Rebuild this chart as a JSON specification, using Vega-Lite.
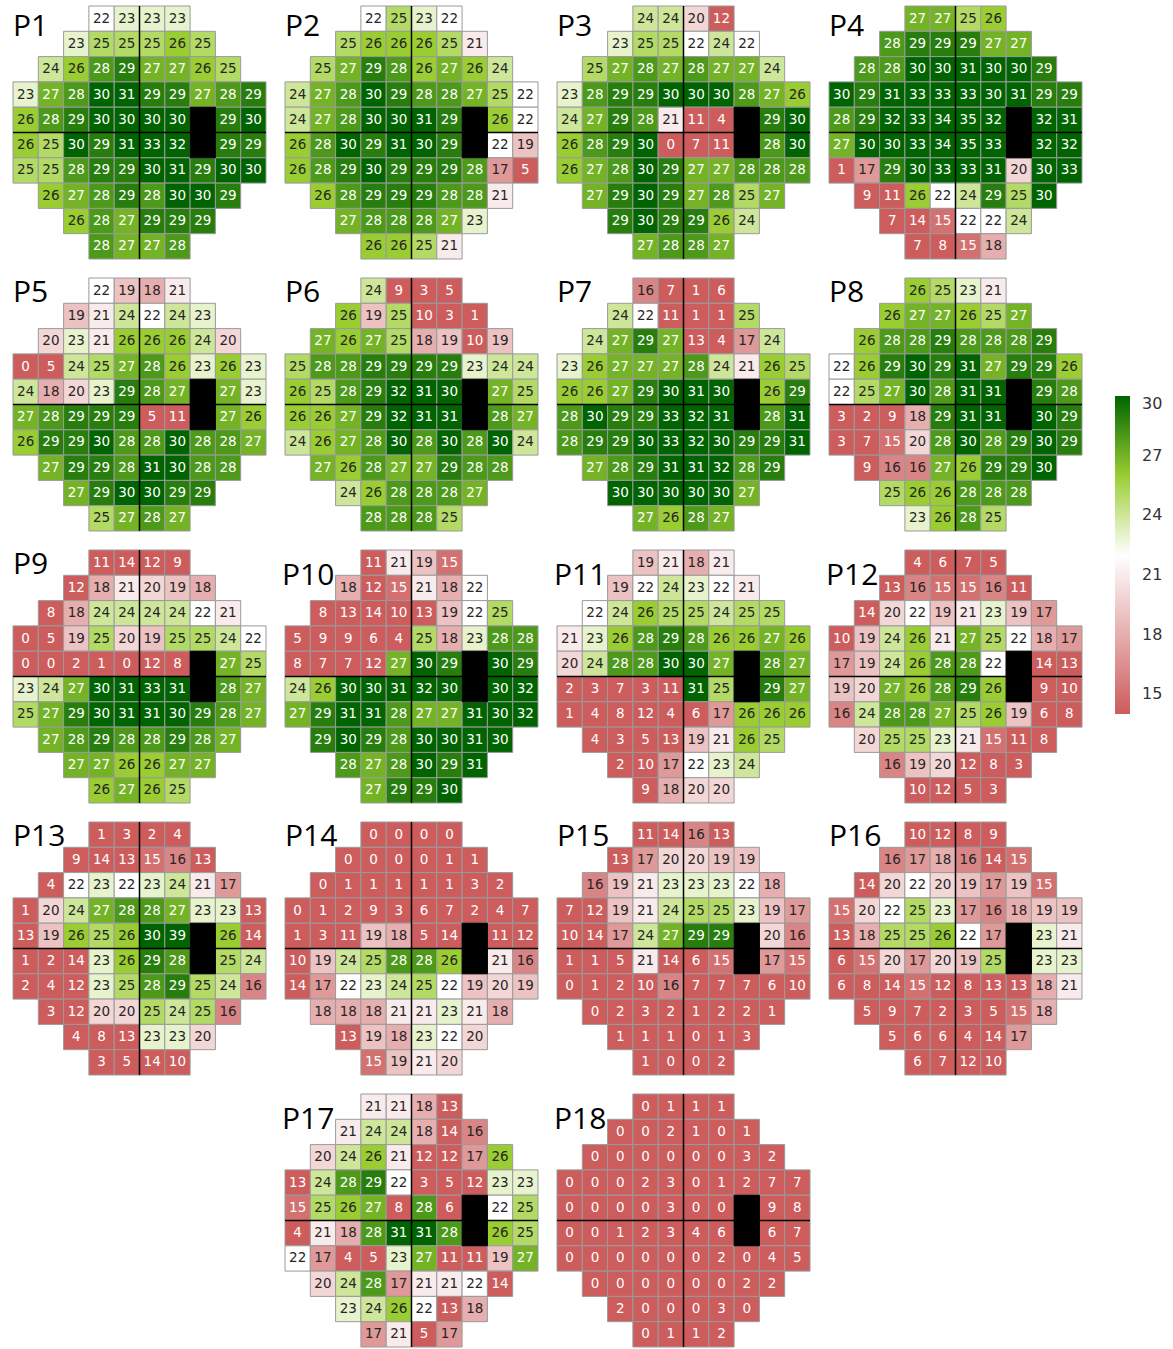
{
"$schema": "https://vega.github.io/schema/vega-lite/v6.json",
"background": "white",
"padding": {"left": 12, "top": 5, "right": 0, "bottom": 0},
"config": {"view": {"stroke": null}},
"datasets": {
"panels": [
{"p":"P1","pr":1,"pc":1},{"p":"P2","pr":1,"pc":2},{"p":"P3","pr":1,"pc":3},{"p":"P4","pr":1,"pc":4},
{"p":"P5","pr":2,"pc":1},{"p":"P6","pr":2,"pc":2},{"p":"P7","pr":2,"pc":3},{"p":"P8","pr":2,"pc":4},
{"p":"P9","pr":3,"pc":1},{"p":"P10","pr":3,"pc":2},{"p":"P11","pr":3,"pc":3},{"p":"P12","pr":3,"pc":4},
{"p":"P13","pr":4,"pc":1},{"p":"P14","pr":4,"pc":2},{"p":"P15","pr":4,"pc":3},{"p":"P16","pr":4,"pc":4},
{"p":"P17","pr":5,"pc":2},{"p":"P18","pr":5,"pc":3}
],
"cells": [
{"p":"P1","r":1,"c":4,"v":22},{"p":"P1","r":1,"c":5,"v":23},{"p":"P1","r":1,"c":6,"v":23},{"p":"P1","r":1,"c":7,"v":23},
{"p":"P1","r":2,"c":3,"v":23},{"p":"P1","r":2,"c":4,"v":25},{"p":"P1","r":2,"c":5,"v":25},{"p":"P1","r":2,"c":6,"v":25},{"p":"P1","r":2,"c":7,"v":26},{"p":"P1","r":2,"c":8,"v":25},
{"p":"P1","r":3,"c":2,"v":24},{"p":"P1","r":3,"c":3,"v":26},{"p":"P1","r":3,"c":4,"v":28},{"p":"P1","r":3,"c":5,"v":29},{"p":"P1","r":3,"c":6,"v":27},{"p":"P1","r":3,"c":7,"v":27},{"p":"P1","r":3,"c":8,"v":26},{"p":"P1","r":3,"c":9,"v":25},
{"p":"P1","r":4,"c":1,"v":23},{"p":"P1","r":4,"c":2,"v":27},{"p":"P1","r":4,"c":3,"v":28},{"p":"P1","r":4,"c":4,"v":30},{"p":"P1","r":4,"c":5,"v":31},{"p":"P1","r":4,"c":6,"v":29},{"p":"P1","r":4,"c":7,"v":29},{"p":"P1","r":4,"c":8,"v":27},{"p":"P1","r":4,"c":9,"v":28},{"p":"P1","r":4,"c":10,"v":29},
{"p":"P1","r":5,"c":1,"v":26},{"p":"P1","r":5,"c":2,"v":28},{"p":"P1","r":5,"c":3,"v":29},{"p":"P1","r":5,"c":4,"v":30},{"p":"P1","r":5,"c":5,"v":30},{"p":"P1","r":5,"c":6,"v":30},{"p":"P1","r":5,"c":7,"v":30},{"p":"P1","r":5,"c":8,"v":null},{"p":"P1","r":5,"c":9,"v":29},{"p":"P1","r":5,"c":10,"v":30},
{"p":"P1","r":6,"c":1,"v":26},{"p":"P1","r":6,"c":2,"v":25},{"p":"P1","r":6,"c":3,"v":30},{"p":"P1","r":6,"c":4,"v":29},{"p":"P1","r":6,"c":5,"v":31},{"p":"P1","r":6,"c":6,"v":33},{"p":"P1","r":6,"c":7,"v":32},{"p":"P1","r":6,"c":8,"v":null},{"p":"P1","r":6,"c":9,"v":29},{"p":"P1","r":6,"c":10,"v":29},
{"p":"P1","r":7,"c":1,"v":25},{"p":"P1","r":7,"c":2,"v":25},{"p":"P1","r":7,"c":3,"v":28},{"p":"P1","r":7,"c":4,"v":29},{"p":"P1","r":7,"c":5,"v":29},{"p":"P1","r":7,"c":6,"v":30},{"p":"P1","r":7,"c":7,"v":31},{"p":"P1","r":7,"c":8,"v":29},{"p":"P1","r":7,"c":9,"v":30},{"p":"P1","r":7,"c":10,"v":30},
{"p":"P1","r":8,"c":2,"v":26},{"p":"P1","r":8,"c":3,"v":27},{"p":"P1","r":8,"c":4,"v":28},{"p":"P1","r":8,"c":5,"v":29},{"p":"P1","r":8,"c":6,"v":28},{"p":"P1","r":8,"c":7,"v":30},{"p":"P1","r":8,"c":8,"v":30},{"p":"P1","r":8,"c":9,"v":29},
{"p":"P1","r":9,"c":3,"v":26},{"p":"P1","r":9,"c":4,"v":28},{"p":"P1","r":9,"c":5,"v":27},{"p":"P1","r":9,"c":6,"v":29},{"p":"P1","r":9,"c":7,"v":29},{"p":"P1","r":9,"c":8,"v":29},
{"p":"P1","r":10,"c":4,"v":28},{"p":"P1","r":10,"c":5,"v":27},{"p":"P1","r":10,"c":6,"v":27},{"p":"P1","r":10,"c":7,"v":28},

{"p":"P2","r":1,"c":4,"v":22},{"p":"P2","r":1,"c":5,"v":25},{"p":"P2","r":1,"c":6,"v":23},{"p":"P2","r":1,"c":7,"v":22},
{"p":"P2","r":2,"c":3,"v":25},{"p":"P2","r":2,"c":4,"v":26},{"p":"P2","r":2,"c":5,"v":26},{"p":"P2","r":2,"c":6,"v":26},{"p":"P2","r":2,"c":7,"v":25},{"p":"P2","r":2,"c":8,"v":21},
{"p":"P2","r":3,"c":2,"v":25},{"p":"P2","r":3,"c":3,"v":27},{"p":"P2","r":3,"c":4,"v":29},{"p":"P2","r":3,"c":5,"v":28},{"p":"P2","r":3,"c":6,"v":26},{"p":"P2","r":3,"c":7,"v":27},{"p":"P2","r":3,"c":8,"v":26},{"p":"P2","r":3,"c":9,"v":24},
{"p":"P2","r":4,"c":1,"v":24},{"p":"P2","r":4,"c":2,"v":27},{"p":"P2","r":4,"c":3,"v":28},{"p":"P2","r":4,"c":4,"v":30},{"p":"P2","r":4,"c":5,"v":29},{"p":"P2","r":4,"c":6,"v":28},{"p":"P2","r":4,"c":7,"v":28},{"p":"P2","r":4,"c":8,"v":27},{"p":"P2","r":4,"c":9,"v":25},{"p":"P2","r":4,"c":10,"v":22},
{"p":"P2","r":5,"c":1,"v":24},{"p":"P2","r":5,"c":2,"v":27},{"p":"P2","r":5,"c":3,"v":28},{"p":"P2","r":5,"c":4,"v":30},{"p":"P2","r":5,"c":5,"v":30},{"p":"P2","r":5,"c":6,"v":31},{"p":"P2","r":5,"c":7,"v":29},{"p":"P2","r":5,"c":8,"v":null},{"p":"P2","r":5,"c":9,"v":26},{"p":"P2","r":5,"c":10,"v":22},
{"p":"P2","r":6,"c":1,"v":26},{"p":"P2","r":6,"c":2,"v":28},{"p":"P2","r":6,"c":3,"v":30},{"p":"P2","r":6,"c":4,"v":29},{"p":"P2","r":6,"c":5,"v":31},{"p":"P2","r":6,"c":6,"v":30},{"p":"P2","r":6,"c":7,"v":29},{"p":"P2","r":6,"c":8,"v":null},{"p":"P2","r":6,"c":9,"v":22},{"p":"P2","r":6,"c":10,"v":19},
{"p":"P2","r":7,"c":1,"v":26},{"p":"P2","r":7,"c":2,"v":28},{"p":"P2","r":7,"c":3,"v":29},{"p":"P2","r":7,"c":4,"v":30},{"p":"P2","r":7,"c":5,"v":29},{"p":"P2","r":7,"c":6,"v":29},{"p":"P2","r":7,"c":7,"v":29},{"p":"P2","r":7,"c":8,"v":28},{"p":"P2","r":7,"c":9,"v":17},{"p":"P2","r":7,"c":10,"v":5},
{"p":"P2","r":8,"c":2,"v":26},{"p":"P2","r":8,"c":3,"v":28},{"p":"P2","r":8,"c":4,"v":29},{"p":"P2","r":8,"c":5,"v":29},{"p":"P2","r":8,"c":6,"v":29},{"p":"P2","r":8,"c":7,"v":28},{"p":"P2","r":8,"c":8,"v":28},{"p":"P2","r":8,"c":9,"v":21},
{"p":"P2","r":9,"c":3,"v":27},{"p":"P2","r":9,"c":4,"v":28},{"p":"P2","r":9,"c":5,"v":28},{"p":"P2","r":9,"c":6,"v":28},{"p":"P2","r":9,"c":7,"v":27},{"p":"P2","r":9,"c":8,"v":23},
{"p":"P2","r":10,"c":4,"v":26},{"p":"P2","r":10,"c":5,"v":26},{"p":"P2","r":10,"c":6,"v":25},{"p":"P2","r":10,"c":7,"v":21},

{"p":"P3","r":1,"c":4,"v":24},{"p":"P3","r":1,"c":5,"v":24},{"p":"P3","r":1,"c":6,"v":20},{"p":"P3","r":1,"c":7,"v":12},
{"p":"P3","r":2,"c":3,"v":23},{"p":"P3","r":2,"c":4,"v":25},{"p":"P3","r":2,"c":5,"v":25},{"p":"P3","r":2,"c":6,"v":22},{"p":"P3","r":2,"c":7,"v":24},{"p":"P3","r":2,"c":8,"v":22},
{"p":"P3","r":3,"c":2,"v":25},{"p":"P3","r":3,"c":3,"v":27},{"p":"P3","r":3,"c":4,"v":28},{"p":"P3","r":3,"c":5,"v":27},{"p":"P3","r":3,"c":6,"v":28},{"p":"P3","r":3,"c":7,"v":27},{"p":"P3","r":3,"c":8,"v":27},{"p":"P3","r":3,"c":9,"v":24},
{"p":"P3","r":4,"c":1,"v":23},{"p":"P3","r":4,"c":2,"v":28},{"p":"P3","r":4,"c":3,"v":29},{"p":"P3","r":4,"c":4,"v":29},{"p":"P3","r":4,"c":5,"v":30},{"p":"P3","r":4,"c":6,"v":30},{"p":"P3","r":4,"c":7,"v":30},{"p":"P3","r":4,"c":8,"v":28},{"p":"P3","r":4,"c":9,"v":27},{"p":"P3","r":4,"c":10,"v":26},
{"p":"P3","r":5,"c":1,"v":24},{"p":"P3","r":5,"c":2,"v":27},{"p":"P3","r":5,"c":3,"v":29},{"p":"P3","r":5,"c":4,"v":28},{"p":"P3","r":5,"c":5,"v":21},{"p":"P3","r":5,"c":6,"v":11},{"p":"P3","r":5,"c":7,"v":4},{"p":"P3","r":5,"c":8,"v":null},{"p":"P3","r":5,"c":9,"v":29},{"p":"P3","r":5,"c":10,"v":30},
{"p":"P3","r":6,"c":1,"v":26},{"p":"P3","r":6,"c":2,"v":28},{"p":"P3","r":6,"c":3,"v":29},{"p":"P3","r":6,"c":4,"v":30},{"p":"P3","r":6,"c":5,"v":0},{"p":"P3","r":6,"c":6,"v":7},{"p":"P3","r":6,"c":7,"v":11},{"p":"P3","r":6,"c":8,"v":null},{"p":"P3","r":6,"c":9,"v":28},{"p":"P3","r":6,"c":10,"v":30},
{"p":"P3","r":7,"c":1,"v":26},{"p":"P3","r":7,"c":2,"v":27},{"p":"P3","r":7,"c":3,"v":28},{"p":"P3","r":7,"c":4,"v":30},{"p":"P3","r":7,"c":5,"v":29},{"p":"P3","r":7,"c":6,"v":27},{"p":"P3","r":7,"c":7,"v":27},{"p":"P3","r":7,"c":8,"v":28},{"p":"P3","r":7,"c":9,"v":28},{"p":"P3","r":7,"c":10,"v":28},
{"p":"P3","r":8,"c":2,"v":27},{"p":"P3","r":8,"c":3,"v":29},{"p":"P3","r":8,"c":4,"v":30},{"p":"P3","r":8,"c":5,"v":29},{"p":"P3","r":8,"c":6,"v":27},{"p":"P3","r":8,"c":7,"v":28},{"p":"P3","r":8,"c":8,"v":25},{"p":"P3","r":8,"c":9,"v":27},
{"p":"P3","r":9,"c":3,"v":29},{"p":"P3","r":9,"c":4,"v":30},{"p":"P3","r":9,"c":5,"v":29},{"p":"P3","r":9,"c":6,"v":29},{"p":"P3","r":9,"c":7,"v":26},{"p":"P3","r":9,"c":8,"v":24},
{"p":"P3","r":10,"c":4,"v":27},{"p":"P3","r":10,"c":5,"v":28},{"p":"P3","r":10,"c":6,"v":28},{"p":"P3","r":10,"c":7,"v":27},

{"p":"P4","r":1,"c":4,"v":27},{"p":"P4","r":1,"c":5,"v":27},{"p":"P4","r":1,"c":6,"v":25},{"p":"P4","r":1,"c":7,"v":26},
{"p":"P4","r":2,"c":3,"v":28},{"p":"P4","r":2,"c":4,"v":29},{"p":"P4","r":2,"c":5,"v":29},{"p":"P4","r":2,"c":6,"v":29},{"p":"P4","r":2,"c":7,"v":27},{"p":"P4","r":2,"c":8,"v":27},
{"p":"P4","r":3,"c":2,"v":28},{"p":"P4","r":3,"c":3,"v":28},{"p":"P4","r":3,"c":4,"v":30},{"p":"P4","r":3,"c":5,"v":30},{"p":"P4","r":3,"c":6,"v":31},{"p":"P4","r":3,"c":7,"v":30},{"p":"P4","r":3,"c":8,"v":30},{"p":"P4","r":3,"c":9,"v":29},
{"p":"P4","r":4,"c":1,"v":30},{"p":"P4","r":4,"c":2,"v":29},{"p":"P4","r":4,"c":3,"v":31},{"p":"P4","r":4,"c":4,"v":33},{"p":"P4","r":4,"c":5,"v":33},{"p":"P4","r":4,"c":6,"v":33},{"p":"P4","r":4,"c":7,"v":30},{"p":"P4","r":4,"c":8,"v":31},{"p":"P4","r":4,"c":9,"v":29},{"p":"P4","r":4,"c":10,"v":29},
{"p":"P4","r":5,"c":1,"v":28},{"p":"P4","r":5,"c":2,"v":29},{"p":"P4","r":5,"c":3,"v":32},{"p":"P4","r":5,"c":4,"v":33},{"p":"P4","r":5,"c":5,"v":34},{"p":"P4","r":5,"c":6,"v":35},{"p":"P4","r":5,"c":7,"v":32},{"p":"P4","r":5,"c":8,"v":null},{"p":"P4","r":5,"c":9,"v":32},{"p":"P4","r":5,"c":10,"v":31},
{"p":"P4","r":6,"c":1,"v":27},{"p":"P4","r":6,"c":2,"v":30},{"p":"P4","r":6,"c":3,"v":30},{"p":"P4","r":6,"c":4,"v":33},{"p":"P4","r":6,"c":5,"v":34},{"p":"P4","r":6,"c":6,"v":35},{"p":"P4","r":6,"c":7,"v":33},{"p":"P4","r":6,"c":8,"v":null},{"p":"P4","r":6,"c":9,"v":32},{"p":"P4","r":6,"c":10,"v":32},
{"p":"P4","r":7,"c":1,"v":1},{"p":"P4","r":7,"c":2,"v":17},{"p":"P4","r":7,"c":3,"v":29},{"p":"P4","r":7,"c":4,"v":30},{"p":"P4","r":7,"c":5,"v":33},{"p":"P4","r":7,"c":6,"v":33},{"p":"P4","r":7,"c":7,"v":31},{"p":"P4","r":7,"c":8,"v":20},{"p":"P4","r":7,"c":9,"v":30},{"p":"P4","r":7,"c":10,"v":33},
{"p":"P4","r":8,"c":2,"v":9},{"p":"P4","r":8,"c":3,"v":11},{"p":"P4","r":8,"c":4,"v":26},{"p":"P4","r":8,"c":5,"v":22},{"p":"P4","r":8,"c":6,"v":24},{"p":"P4","r":8,"c":7,"v":29},{"p":"P4","r":8,"c":8,"v":25},{"p":"P4","r":8,"c":9,"v":30},
{"p":"P4","r":9,"c":3,"v":7},{"p":"P4","r":9,"c":4,"v":14},{"p":"P4","r":9,"c":5,"v":15},{"p":"P4","r":9,"c":6,"v":22},{"p":"P4","r":9,"c":7,"v":22},{"p":"P4","r":9,"c":8,"v":24},
{"p":"P4","r":10,"c":4,"v":7},{"p":"P4","r":10,"c":5,"v":8},{"p":"P4","r":10,"c":6,"v":15},{"p":"P4","r":10,"c":7,"v":18},

{"p":"P5","r":1,"c":4,"v":22},{"p":"P5","r":1,"c":5,"v":19},{"p":"P5","r":1,"c":6,"v":18},{"p":"P5","r":1,"c":7,"v":21},
{"p":"P5","r":2,"c":3,"v":19},{"p":"P5","r":2,"c":4,"v":21},{"p":"P5","r":2,"c":5,"v":24},{"p":"P5","r":2,"c":6,"v":22},{"p":"P5","r":2,"c":7,"v":24},{"p":"P5","r":2,"c":8,"v":23},
{"p":"P5","r":3,"c":2,"v":20},{"p":"P5","r":3,"c":3,"v":23},{"p":"P5","r":3,"c":4,"v":21},{"p":"P5","r":3,"c":5,"v":26},{"p":"P5","r":3,"c":6,"v":26},{"p":"P5","r":3,"c":7,"v":26},{"p":"P5","r":3,"c":8,"v":24},{"p":"P5","r":3,"c":9,"v":20},
{"p":"P5","r":4,"c":1,"v":0},{"p":"P5","r":4,"c":2,"v":5},{"p":"P5","r":4,"c":3,"v":24},{"p":"P5","r":4,"c":4,"v":25},{"p":"P5","r":4,"c":5,"v":27},{"p":"P5","r":4,"c":6,"v":28},{"p":"P5","r":4,"c":7,"v":26},{"p":"P5","r":4,"c":8,"v":23},{"p":"P5","r":4,"c":9,"v":26},{"p":"P5","r":4,"c":10,"v":23},
{"p":"P5","r":5,"c":1,"v":24},{"p":"P5","r":5,"c":2,"v":18},{"p":"P5","r":5,"c":3,"v":20},{"p":"P5","r":5,"c":4,"v":23},{"p":"P5","r":5,"c":5,"v":29},{"p":"P5","r":5,"c":6,"v":28},{"p":"P5","r":5,"c":7,"v":27},{"p":"P5","r":5,"c":8,"v":null},{"p":"P5","r":5,"c":9,"v":27},{"p":"P5","r":5,"c":10,"v":23},
{"p":"P5","r":6,"c":1,"v":27},{"p":"P5","r":6,"c":2,"v":28},{"p":"P5","r":6,"c":3,"v":29},{"p":"P5","r":6,"c":4,"v":29},{"p":"P5","r":6,"c":5,"v":29},{"p":"P5","r":6,"c":6,"v":5},{"p":"P5","r":6,"c":7,"v":11},{"p":"P5","r":6,"c":8,"v":null},{"p":"P5","r":6,"c":9,"v":27},{"p":"P5","r":6,"c":10,"v":26},
{"p":"P5","r":7,"c":1,"v":26},{"p":"P5","r":7,"c":2,"v":29},{"p":"P5","r":7,"c":3,"v":29},{"p":"P5","r":7,"c":4,"v":30},{"p":"P5","r":7,"c":5,"v":28},{"p":"P5","r":7,"c":6,"v":28},{"p":"P5","r":7,"c":7,"v":30},{"p":"P5","r":7,"c":8,"v":28},{"p":"P5","r":7,"c":9,"v":28},{"p":"P5","r":7,"c":10,"v":27},
{"p":"P5","r":8,"c":2,"v":27},{"p":"P5","r":8,"c":3,"v":29},{"p":"P5","r":8,"c":4,"v":29},{"p":"P5","r":8,"c":5,"v":28},{"p":"P5","r":8,"c":6,"v":31},{"p":"P5","r":8,"c":7,"v":30},{"p":"P5","r":8,"c":8,"v":28},{"p":"P5","r":8,"c":9,"v":28},
{"p":"P5","r":9,"c":3,"v":27},{"p":"P5","r":9,"c":4,"v":29},{"p":"P5","r":9,"c":5,"v":30},{"p":"P5","r":9,"c":6,"v":30},{"p":"P5","r":9,"c":7,"v":29},{"p":"P5","r":9,"c":8,"v":29},
{"p":"P5","r":10,"c":4,"v":25},{"p":"P5","r":10,"c":5,"v":27},{"p":"P5","r":10,"c":6,"v":28},{"p":"P5","r":10,"c":7,"v":27},

{"p":"P6","r":1,"c":4,"v":24},{"p":"P6","r":1,"c":5,"v":9},{"p":"P6","r":1,"c":6,"v":3},{"p":"P6","r":1,"c":7,"v":5},
{"p":"P6","r":2,"c":3,"v":26},{"p":"P6","r":2,"c":4,"v":19},{"p":"P6","r":2,"c":5,"v":25},{"p":"P6","r":2,"c":6,"v":10},{"p":"P6","r":2,"c":7,"v":3},{"p":"P6","r":2,"c":8,"v":1},
{"p":"P6","r":3,"c":2,"v":27},{"p":"P6","r":3,"c":3,"v":26},{"p":"P6","r":3,"c":4,"v":27},{"p":"P6","r":3,"c":5,"v":25},{"p":"P6","r":3,"c":6,"v":18},{"p":"P6","r":3,"c":7,"v":19},{"p":"P6","r":3,"c":8,"v":10},{"p":"P6","r":3,"c":9,"v":19},
{"p":"P6","r":4,"c":1,"v":25},{"p":"P6","r":4,"c":2,"v":28},{"p":"P6","r":4,"c":3,"v":28},{"p":"P6","r":4,"c":4,"v":29},{"p":"P6","r":4,"c":5,"v":29},{"p":"P6","r":4,"c":6,"v":29},{"p":"P6","r":4,"c":7,"v":29},{"p":"P6","r":4,"c":8,"v":23},{"p":"P6","r":4,"c":9,"v":24},{"p":"P6","r":4,"c":10,"v":24},
{"p":"P6","r":5,"c":1,"v":26},{"p":"P6","r":5,"c":2,"v":25},{"p":"P6","r":5,"c":3,"v":28},{"p":"P6","r":5,"c":4,"v":29},{"p":"P6","r":5,"c":5,"v":32},{"p":"P6","r":5,"c":6,"v":31},{"p":"P6","r":5,"c":7,"v":30},{"p":"P6","r":5,"c":8,"v":null},{"p":"P6","r":5,"c":9,"v":27},{"p":"P6","r":5,"c":10,"v":25},
{"p":"P6","r":6,"c":1,"v":26},{"p":"P6","r":6,"c":2,"v":26},{"p":"P6","r":6,"c":3,"v":27},{"p":"P6","r":6,"c":4,"v":29},{"p":"P6","r":6,"c":5,"v":32},{"p":"P6","r":6,"c":6,"v":31},{"p":"P6","r":6,"c":7,"v":31},{"p":"P6","r":6,"c":8,"v":null},{"p":"P6","r":6,"c":9,"v":28},{"p":"P6","r":6,"c":10,"v":27},
{"p":"P6","r":7,"c":1,"v":24},{"p":"P6","r":7,"c":2,"v":26},{"p":"P6","r":7,"c":3,"v":27},{"p":"P6","r":7,"c":4,"v":28},{"p":"P6","r":7,"c":5,"v":30},{"p":"P6","r":7,"c":6,"v":28},{"p":"P6","r":7,"c":7,"v":30},{"p":"P6","r":7,"c":8,"v":28},{"p":"P6","r":7,"c":9,"v":30},{"p":"P6","r":7,"c":10,"v":24},
{"p":"P6","r":8,"c":2,"v":27},{"p":"P6","r":8,"c":3,"v":26},{"p":"P6","r":8,"c":4,"v":28},{"p":"P6","r":8,"c":5,"v":27},{"p":"P6","r":8,"c":6,"v":27},{"p":"P6","r":8,"c":7,"v":29},{"p":"P6","r":8,"c":8,"v":28},{"p":"P6","r":8,"c":9,"v":28},
{"p":"P6","r":9,"c":3,"v":24},{"p":"P6","r":9,"c":4,"v":26},{"p":"P6","r":9,"c":5,"v":28},{"p":"P6","r":9,"c":6,"v":28},{"p":"P6","r":9,"c":7,"v":28},{"p":"P6","r":9,"c":8,"v":27},
{"p":"P6","r":10,"c":4,"v":28},{"p":"P6","r":10,"c":5,"v":28},{"p":"P6","r":10,"c":6,"v":28},{"p":"P6","r":10,"c":7,"v":25},

{"p":"P7","r":1,"c":4,"v":16},{"p":"P7","r":1,"c":5,"v":7},{"p":"P7","r":1,"c":6,"v":1},{"p":"P7","r":1,"c":7,"v":6},
{"p":"P7","r":2,"c":3,"v":24},{"p":"P7","r":2,"c":4,"v":22},{"p":"P7","r":2,"c":5,"v":11},{"p":"P7","r":2,"c":6,"v":1},{"p":"P7","r":2,"c":7,"v":1},{"p":"P7","r":2,"c":8,"v":25},
{"p":"P7","r":3,"c":2,"v":24},{"p":"P7","r":3,"c":3,"v":27},{"p":"P7","r":3,"c":4,"v":29},{"p":"P7","r":3,"c":5,"v":27},{"p":"P7","r":3,"c":6,"v":13},{"p":"P7","r":3,"c":7,"v":4},{"p":"P7","r":3,"c":8,"v":17},{"p":"P7","r":3,"c":9,"v":24},
{"p":"P7","r":4,"c":1,"v":23},{"p":"P7","r":4,"c":2,"v":26},{"p":"P7","r":4,"c":3,"v":27},{"p":"P7","r":4,"c":4,"v":27},{"p":"P7","r":4,"c":5,"v":27},{"p":"P7","r":4,"c":6,"v":28},{"p":"P7","r":4,"c":7,"v":24},{"p":"P7","r":4,"c":8,"v":21},{"p":"P7","r":4,"c":9,"v":26},{"p":"P7","r":4,"c":10,"v":25},
{"p":"P7","r":5,"c":1,"v":26},{"p":"P7","r":5,"c":2,"v":26},{"p":"P7","r":5,"c":3,"v":27},{"p":"P7","r":5,"c":4,"v":29},{"p":"P7","r":5,"c":5,"v":30},{"p":"P7","r":5,"c":6,"v":31},{"p":"P7","r":5,"c":7,"v":30},{"p":"P7","r":5,"c":8,"v":null},{"p":"P7","r":5,"c":9,"v":26},{"p":"P7","r":5,"c":10,"v":29},
{"p":"P7","r":6,"c":1,"v":28},{"p":"P7","r":6,"c":2,"v":30},{"p":"P7","r":6,"c":3,"v":29},{"p":"P7","r":6,"c":4,"v":29},{"p":"P7","r":6,"c":5,"v":33},{"p":"P7","r":6,"c":6,"v":32},{"p":"P7","r":6,"c":7,"v":31},{"p":"P7","r":6,"c":8,"v":null},{"p":"P7","r":6,"c":9,"v":28},{"p":"P7","r":6,"c":10,"v":31},
{"p":"P7","r":7,"c":1,"v":28},{"p":"P7","r":7,"c":2,"v":29},{"p":"P7","r":7,"c":3,"v":29},{"p":"P7","r":7,"c":4,"v":30},{"p":"P7","r":7,"c":5,"v":33},{"p":"P7","r":7,"c":6,"v":32},{"p":"P7","r":7,"c":7,"v":30},{"p":"P7","r":7,"c":8,"v":29},{"p":"P7","r":7,"c":9,"v":29},{"p":"P7","r":7,"c":10,"v":31},
{"p":"P7","r":8,"c":2,"v":27},{"p":"P7","r":8,"c":3,"v":28},{"p":"P7","r":8,"c":4,"v":29},{"p":"P7","r":8,"c":5,"v":31},{"p":"P7","r":8,"c":6,"v":31},{"p":"P7","r":8,"c":7,"v":32},{"p":"P7","r":8,"c":8,"v":28},{"p":"P7","r":8,"c":9,"v":29},
{"p":"P7","r":9,"c":3,"v":30},{"p":"P7","r":9,"c":4,"v":30},{"p":"P7","r":9,"c":5,"v":30},{"p":"P7","r":9,"c":6,"v":30},{"p":"P7","r":9,"c":7,"v":30},{"p":"P7","r":9,"c":8,"v":27},
{"p":"P7","r":10,"c":4,"v":27},{"p":"P7","r":10,"c":5,"v":26},{"p":"P7","r":10,"c":6,"v":28},{"p":"P7","r":10,"c":7,"v":27},

{"p":"P8","r":1,"c":4,"v":26},{"p":"P8","r":1,"c":5,"v":25},{"p":"P8","r":1,"c":6,"v":23},{"p":"P8","r":1,"c":7,"v":21},
{"p":"P8","r":2,"c":3,"v":26},{"p":"P8","r":2,"c":4,"v":27},{"p":"P8","r":2,"c":5,"v":27},{"p":"P8","r":2,"c":6,"v":26},{"p":"P8","r":2,"c":7,"v":25},{"p":"P8","r":2,"c":8,"v":27},
{"p":"P8","r":3,"c":2,"v":26},{"p":"P8","r":3,"c":3,"v":28},{"p":"P8","r":3,"c":4,"v":28},{"p":"P8","r":3,"c":5,"v":29},{"p":"P8","r":3,"c":6,"v":28},{"p":"P8","r":3,"c":7,"v":28},{"p":"P8","r":3,"c":8,"v":28},{"p":"P8","r":3,"c":9,"v":29},
{"p":"P8","r":4,"c":1,"v":22},{"p":"P8","r":4,"c":2,"v":26},{"p":"P8","r":4,"c":3,"v":29},{"p":"P8","r":4,"c":4,"v":30},{"p":"P8","r":4,"c":5,"v":29},{"p":"P8","r":4,"c":6,"v":31},{"p":"P8","r":4,"c":7,"v":27},{"p":"P8","r":4,"c":8,"v":29},{"p":"P8","r":4,"c":9,"v":29},{"p":"P8","r":4,"c":10,"v":26},
{"p":"P8","r":5,"c":1,"v":22},{"p":"P8","r":5,"c":2,"v":25},{"p":"P8","r":5,"c":3,"v":27},{"p":"P8","r":5,"c":4,"v":30},{"p":"P8","r":5,"c":5,"v":28},{"p":"P8","r":5,"c":6,"v":31},{"p":"P8","r":5,"c":7,"v":31},{"p":"P8","r":5,"c":8,"v":null},{"p":"P8","r":5,"c":9,"v":29},{"p":"P8","r":5,"c":10,"v":28},
{"p":"P8","r":6,"c":1,"v":3},{"p":"P8","r":6,"c":2,"v":2},{"p":"P8","r":6,"c":3,"v":9},{"p":"P8","r":6,"c":4,"v":18},{"p":"P8","r":6,"c":5,"v":29},{"p":"P8","r":6,"c":6,"v":31},{"p":"P8","r":6,"c":7,"v":31},{"p":"P8","r":6,"c":8,"v":null},{"p":"P8","r":6,"c":9,"v":30},{"p":"P8","r":6,"c":10,"v":29},
{"p":"P8","r":7,"c":1,"v":3},{"p":"P8","r":7,"c":2,"v":7},{"p":"P8","r":7,"c":3,"v":15},{"p":"P8","r":7,"c":4,"v":20},{"p":"P8","r":7,"c":5,"v":28},{"p":"P8","r":7,"c":6,"v":30},{"p":"P8","r":7,"c":7,"v":28},{"p":"P8","r":7,"c":8,"v":29},{"p":"P8","r":7,"c":9,"v":30},{"p":"P8","r":7,"c":10,"v":29},
{"p":"P8","r":8,"c":2,"v":9},{"p":"P8","r":8,"c":3,"v":16},{"p":"P8","r":8,"c":4,"v":16},{"p":"P8","r":8,"c":5,"v":27},{"p":"P8","r":8,"c":6,"v":26},{"p":"P8","r":8,"c":7,"v":29},{"p":"P8","r":8,"c":8,"v":29},{"p":"P8","r":8,"c":9,"v":30},
{"p":"P8","r":9,"c":3,"v":25},{"p":"P8","r":9,"c":4,"v":26},{"p":"P8","r":9,"c":5,"v":26},{"p":"P8","r":9,"c":6,"v":28},{"p":"P8","r":9,"c":7,"v":28},{"p":"P8","r":9,"c":8,"v":28},
{"p":"P8","r":10,"c":4,"v":23},{"p":"P8","r":10,"c":5,"v":26},{"p":"P8","r":10,"c":6,"v":28},{"p":"P8","r":10,"c":7,"v":25},

{"p":"P9","r":1,"c":4,"v":11},{"p":"P9","r":1,"c":5,"v":14},{"p":"P9","r":1,"c":6,"v":12},{"p":"P9","r":1,"c":7,"v":9},
{"p":"P9","r":2,"c":3,"v":12},{"p":"P9","r":2,"c":4,"v":18},{"p":"P9","r":2,"c":5,"v":21},{"p":"P9","r":2,"c":6,"v":20},{"p":"P9","r":2,"c":7,"v":19},{"p":"P9","r":2,"c":8,"v":18},
{"p":"P9","r":3,"c":2,"v":8},{"p":"P9","r":3,"c":3,"v":18},{"p":"P9","r":3,"c":4,"v":24},{"p":"P9","r":3,"c":5,"v":24},{"p":"P9","r":3,"c":6,"v":24},{"p":"P9","r":3,"c":7,"v":24},{"p":"P9","r":3,"c":8,"v":22},{"p":"P9","r":3,"c":9,"v":21},
{"p":"P9","r":4,"c":1,"v":0},{"p":"P9","r":4,"c":2,"v":5},{"p":"P9","r":4,"c":3,"v":19},{"p":"P9","r":4,"c":4,"v":25},{"p":"P9","r":4,"c":5,"v":20},{"p":"P9","r":4,"c":6,"v":19},{"p":"P9","r":4,"c":7,"v":25},{"p":"P9","r":4,"c":8,"v":25},{"p":"P9","r":4,"c":9,"v":24},{"p":"P9","r":4,"c":10,"v":22},
{"p":"P9","r":5,"c":1,"v":0},{"p":"P9","r":5,"c":2,"v":0},{"p":"P9","r":5,"c":3,"v":2},{"p":"P9","r":5,"c":4,"v":1},{"p":"P9","r":5,"c":5,"v":0},{"p":"P9","r":5,"c":6,"v":12},{"p":"P9","r":5,"c":7,"v":8},{"p":"P9","r":5,"c":8,"v":null},{"p":"P9","r":5,"c":9,"v":27},{"p":"P9","r":5,"c":10,"v":25},
{"p":"P9","r":6,"c":1,"v":23},{"p":"P9","r":6,"c":2,"v":24},{"p":"P9","r":6,"c":3,"v":27},{"p":"P9","r":6,"c":4,"v":30},{"p":"P9","r":6,"c":5,"v":31},{"p":"P9","r":6,"c":6,"v":33},{"p":"P9","r":6,"c":7,"v":31},{"p":"P9","r":6,"c":8,"v":null},{"p":"P9","r":6,"c":9,"v":28},{"p":"P9","r":6,"c":10,"v":27},
{"p":"P9","r":7,"c":1,"v":25},{"p":"P9","r":7,"c":2,"v":27},{"p":"P9","r":7,"c":3,"v":29},{"p":"P9","r":7,"c":4,"v":30},{"p":"P9","r":7,"c":5,"v":31},{"p":"P9","r":7,"c":6,"v":31},{"p":"P9","r":7,"c":7,"v":30},{"p":"P9","r":7,"c":8,"v":29},{"p":"P9","r":7,"c":9,"v":28},{"p":"P9","r":7,"c":10,"v":27},
{"p":"P9","r":8,"c":2,"v":27},{"p":"P9","r":8,"c":3,"v":28},{"p":"P9","r":8,"c":4,"v":29},{"p":"P9","r":8,"c":5,"v":28},{"p":"P9","r":8,"c":6,"v":28},{"p":"P9","r":8,"c":7,"v":29},{"p":"P9","r":8,"c":8,"v":28},{"p":"P9","r":8,"c":9,"v":27},
{"p":"P9","r":9,"c":3,"v":27},{"p":"P9","r":9,"c":4,"v":27},{"p":"P9","r":9,"c":5,"v":26},{"p":"P9","r":9,"c":6,"v":26},{"p":"P9","r":9,"c":7,"v":27},{"p":"P9","r":9,"c":8,"v":27},
{"p":"P9","r":10,"c":4,"v":26},{"p":"P9","r":10,"c":5,"v":27},{"p":"P9","r":10,"c":6,"v":26},{"p":"P9","r":10,"c":7,"v":25},

{"p":"P10","r":1,"c":4,"v":11},{"p":"P10","r":1,"c":5,"v":21},{"p":"P10","r":1,"c":6,"v":19},{"p":"P10","r":1,"c":7,"v":15},
{"p":"P10","r":2,"c":3,"v":18},{"p":"P10","r":2,"c":4,"v":12},{"p":"P10","r":2,"c":5,"v":15},{"p":"P10","r":2,"c":6,"v":21},{"p":"P10","r":2,"c":7,"v":18},{"p":"P10","r":2,"c":8,"v":22},
{"p":"P10","r":3,"c":2,"v":8},{"p":"P10","r":3,"c":3,"v":13},{"p":"P10","r":3,"c":4,"v":14},{"p":"P10","r":3,"c":5,"v":10},{"p":"P10","r":3,"c":6,"v":13},{"p":"P10","r":3,"c":7,"v":19},{"p":"P10","r":3,"c":8,"v":22},{"p":"P10","r":3,"c":9,"v":25},
{"p":"P10","r":4,"c":1,"v":5},{"p":"P10","r":4,"c":2,"v":9},{"p":"P10","r":4,"c":3,"v":9},{"p":"P10","r":4,"c":4,"v":6},{"p":"P10","r":4,"c":5,"v":4},{"p":"P10","r":4,"c":6,"v":25},{"p":"P10","r":4,"c":7,"v":18},{"p":"P10","r":4,"c":8,"v":23},{"p":"P10","r":4,"c":9,"v":28},{"p":"P10","r":4,"c":10,"v":28},
{"p":"P10","r":5,"c":1,"v":8},{"p":"P10","r":5,"c":2,"v":7},{"p":"P10","r":5,"c":3,"v":7},{"p":"P10","r":5,"c":4,"v":12},{"p":"P10","r":5,"c":5,"v":27},{"p":"P10","r":5,"c":6,"v":30},{"p":"P10","r":5,"c":7,"v":29},{"p":"P10","r":5,"c":8,"v":null},{"p":"P10","r":5,"c":9,"v":30},{"p":"P10","r":5,"c":10,"v":29},
{"p":"P10","r":6,"c":1,"v":24},{"p":"P10","r":6,"c":2,"v":26},{"p":"P10","r":6,"c":3,"v":30},{"p":"P10","r":6,"c":4,"v":30},{"p":"P10","r":6,"c":5,"v":31},{"p":"P10","r":6,"c":6,"v":32},{"p":"P10","r":6,"c":7,"v":30},{"p":"P10","r":6,"c":8,"v":null},{"p":"P10","r":6,"c":9,"v":30},{"p":"P10","r":6,"c":10,"v":32},
{"p":"P10","r":7,"c":1,"v":27},{"p":"P10","r":7,"c":2,"v":29},{"p":"P10","r":7,"c":3,"v":31},{"p":"P10","r":7,"c":4,"v":31},{"p":"P10","r":7,"c":5,"v":28},{"p":"P10","r":7,"c":6,"v":27},{"p":"P10","r":7,"c":7,"v":27},{"p":"P10","r":7,"c":8,"v":31},{"p":"P10","r":7,"c":9,"v":30},{"p":"P10","r":7,"c":10,"v":32},
{"p":"P10","r":8,"c":2,"v":29},{"p":"P10","r":8,"c":3,"v":30},{"p":"P10","r":8,"c":4,"v":29},{"p":"P10","r":8,"c":5,"v":28},{"p":"P10","r":8,"c":6,"v":30},{"p":"P10","r":8,"c":7,"v":30},{"p":"P10","r":8,"c":8,"v":31},{"p":"P10","r":8,"c":9,"v":30},
{"p":"P10","r":9,"c":3,"v":28},{"p":"P10","r":9,"c":4,"v":27},{"p":"P10","r":9,"c":5,"v":28},{"p":"P10","r":9,"c":6,"v":30},{"p":"P10","r":9,"c":7,"v":29},{"p":"P10","r":9,"c":8,"v":31},
{"p":"P10","r":10,"c":4,"v":27},{"p":"P10","r":10,"c":5,"v":29},{"p":"P10","r":10,"c":6,"v":29},{"p":"P10","r":10,"c":7,"v":30},

{"p":"P11","r":1,"c":4,"v":19},{"p":"P11","r":1,"c":5,"v":21},{"p":"P11","r":1,"c":6,"v":18},{"p":"P11","r":1,"c":7,"v":21},
{"p":"P11","r":2,"c":3,"v":19},{"p":"P11","r":2,"c":4,"v":22},{"p":"P11","r":2,"c":5,"v":24},{"p":"P11","r":2,"c":6,"v":23},{"p":"P11","r":2,"c":7,"v":22},{"p":"P11","r":2,"c":8,"v":21},
{"p":"P11","r":3,"c":2,"v":22},{"p":"P11","r":3,"c":3,"v":24},{"p":"P11","r":3,"c":4,"v":26},{"p":"P11","r":3,"c":5,"v":25},{"p":"P11","r":3,"c":6,"v":25},{"p":"P11","r":3,"c":7,"v":24},{"p":"P11","r":3,"c":8,"v":25},{"p":"P11","r":3,"c":9,"v":25},
{"p":"P11","r":4,"c":1,"v":21},{"p":"P11","r":4,"c":2,"v":23},{"p":"P11","r":4,"c":3,"v":26},{"p":"P11","r":4,"c":4,"v":28},{"p":"P11","r":4,"c":5,"v":29},{"p":"P11","r":4,"c":6,"v":28},{"p":"P11","r":4,"c":7,"v":26},{"p":"P11","r":4,"c":8,"v":26},{"p":"P11","r":4,"c":9,"v":27},{"p":"P11","r":4,"c":10,"v":26},
{"p":"P11","r":5,"c":1,"v":20},{"p":"P11","r":5,"c":2,"v":24},{"p":"P11","r":5,"c":3,"v":28},{"p":"P11","r":5,"c":4,"v":28},{"p":"P11","r":5,"c":5,"v":30},{"p":"P11","r":5,"c":6,"v":30},{"p":"P11","r":5,"c":7,"v":27},{"p":"P11","r":5,"c":8,"v":null},{"p":"P11","r":5,"c":9,"v":28},{"p":"P11","r":5,"c":10,"v":27},
{"p":"P11","r":6,"c":1,"v":2},{"p":"P11","r":6,"c":2,"v":3},{"p":"P11","r":6,"c":3,"v":7},{"p":"P11","r":6,"c":4,"v":3},{"p":"P11","r":6,"c":5,"v":11},{"p":"P11","r":6,"c":6,"v":31},{"p":"P11","r":6,"c":7,"v":25},{"p":"P11","r":6,"c":8,"v":null},{"p":"P11","r":6,"c":9,"v":29},{"p":"P11","r":6,"c":10,"v":27},
{"p":"P11","r":7,"c":1,"v":1},{"p":"P11","r":7,"c":2,"v":4},{"p":"P11","r":7,"c":3,"v":8},{"p":"P11","r":7,"c":4,"v":12},{"p":"P11","r":7,"c":5,"v":4},{"p":"P11","r":7,"c":6,"v":6},{"p":"P11","r":7,"c":7,"v":17},{"p":"P11","r":7,"c":8,"v":26},{"p":"P11","r":7,"c":9,"v":26},{"p":"P11","r":7,"c":10,"v":26},
{"p":"P11","r":8,"c":2,"v":4},{"p":"P11","r":8,"c":3,"v":3},{"p":"P11","r":8,"c":4,"v":5},{"p":"P11","r":8,"c":5,"v":13},{"p":"P11","r":8,"c":6,"v":19},{"p":"P11","r":8,"c":7,"v":21},{"p":"P11","r":8,"c":8,"v":26},{"p":"P11","r":8,"c":9,"v":25},
{"p":"P11","r":9,"c":3,"v":2},{"p":"P11","r":9,"c":4,"v":10},{"p":"P11","r":9,"c":5,"v":17},{"p":"P11","r":9,"c":6,"v":22},{"p":"P11","r":9,"c":7,"v":23},{"p":"P11","r":9,"c":8,"v":24},
{"p":"P11","r":10,"c":4,"v":9},{"p":"P11","r":10,"c":5,"v":18},{"p":"P11","r":10,"c":6,"v":20},{"p":"P11","r":10,"c":7,"v":20},

{"p":"P12","r":1,"c":4,"v":4},{"p":"P12","r":1,"c":5,"v":6},{"p":"P12","r":1,"c":6,"v":7},{"p":"P12","r":1,"c":7,"v":5},
{"p":"P12","r":2,"c":3,"v":13},{"p":"P12","r":2,"c":4,"v":16},{"p":"P12","r":2,"c":5,"v":15},{"p":"P12","r":2,"c":6,"v":15},{"p":"P12","r":2,"c":7,"v":16},{"p":"P12","r":2,"c":8,"v":11},
{"p":"P12","r":3,"c":2,"v":14},{"p":"P12","r":3,"c":3,"v":20},{"p":"P12","r":3,"c":4,"v":22},{"p":"P12","r":3,"c":5,"v":19},{"p":"P12","r":3,"c":6,"v":21},{"p":"P12","r":3,"c":7,"v":23},{"p":"P12","r":3,"c":8,"v":19},{"p":"P12","r":3,"c":9,"v":17},
{"p":"P12","r":4,"c":1,"v":10},{"p":"P12","r":4,"c":2,"v":19},{"p":"P12","r":4,"c":3,"v":24},{"p":"P12","r":4,"c":4,"v":26},{"p":"P12","r":4,"c":5,"v":21},{"p":"P12","r":4,"c":6,"v":27},{"p":"P12","r":4,"c":7,"v":25},{"p":"P12","r":4,"c":8,"v":22},{"p":"P12","r":4,"c":9,"v":18},{"p":"P12","r":4,"c":10,"v":17},
{"p":"P12","r":5,"c":1,"v":17},{"p":"P12","r":5,"c":2,"v":19},{"p":"P12","r":5,"c":3,"v":24},{"p":"P12","r":5,"c":4,"v":26},{"p":"P12","r":5,"c":5,"v":28},{"p":"P12","r":5,"c":6,"v":28},{"p":"P12","r":5,"c":7,"v":22},{"p":"P12","r":5,"c":8,"v":null},{"p":"P12","r":5,"c":9,"v":14},{"p":"P12","r":5,"c":10,"v":13},
{"p":"P12","r":6,"c":1,"v":19},{"p":"P12","r":6,"c":2,"v":20},{"p":"P12","r":6,"c":3,"v":27},{"p":"P12","r":6,"c":4,"v":26},{"p":"P12","r":6,"c":5,"v":28},{"p":"P12","r":6,"c":6,"v":29},{"p":"P12","r":6,"c":7,"v":26},{"p":"P12","r":6,"c":8,"v":null},{"p":"P12","r":6,"c":9,"v":9},{"p":"P12","r":6,"c":10,"v":10},
{"p":"P12","r":7,"c":1,"v":16},{"p":"P12","r":7,"c":2,"v":24},{"p":"P12","r":7,"c":3,"v":28},{"p":"P12","r":7,"c":4,"v":28},{"p":"P12","r":7,"c":5,"v":27},{"p":"P12","r":7,"c":6,"v":25},{"p":"P12","r":7,"c":7,"v":26},{"p":"P12","r":7,"c":8,"v":19},{"p":"P12","r":7,"c":9,"v":6},{"p":"P12","r":7,"c":10,"v":8},
{"p":"P12","r":8,"c":2,"v":20},{"p":"P12","r":8,"c":3,"v":25},{"p":"P12","r":8,"c":4,"v":25},{"p":"P12","r":8,"c":5,"v":23},{"p":"P12","r":8,"c":6,"v":21},{"p":"P12","r":8,"c":7,"v":15},{"p":"P12","r":8,"c":8,"v":11},{"p":"P12","r":8,"c":9,"v":8},
{"p":"P12","r":9,"c":3,"v":16},{"p":"P12","r":9,"c":4,"v":19},{"p":"P12","r":9,"c":5,"v":20},{"p":"P12","r":9,"c":6,"v":12},{"p":"P12","r":9,"c":7,"v":8},{"p":"P12","r":9,"c":8,"v":3},
{"p":"P12","r":10,"c":4,"v":10},{"p":"P12","r":10,"c":5,"v":12},{"p":"P12","r":10,"c":6,"v":5},{"p":"P12","r":10,"c":7,"v":3},

{"p":"P13","r":1,"c":4,"v":1},{"p":"P13","r":1,"c":5,"v":3},{"p":"P13","r":1,"c":6,"v":2},{"p":"P13","r":1,"c":7,"v":4},
{"p":"P13","r":2,"c":3,"v":9},{"p":"P13","r":2,"c":4,"v":14},{"p":"P13","r":2,"c":5,"v":13},{"p":"P13","r":2,"c":6,"v":15},{"p":"P13","r":2,"c":7,"v":16},{"p":"P13","r":2,"c":8,"v":13},
{"p":"P13","r":3,"c":2,"v":4},{"p":"P13","r":3,"c":3,"v":22},{"p":"P13","r":3,"c":4,"v":23},{"p":"P13","r":3,"c":5,"v":22},{"p":"P13","r":3,"c":6,"v":23},{"p":"P13","r":3,"c":7,"v":24},{"p":"P13","r":3,"c":8,"v":21},{"p":"P13","r":3,"c":9,"v":17},
{"p":"P13","r":4,"c":1,"v":1},{"p":"P13","r":4,"c":2,"v":20},{"p":"P13","r":4,"c":3,"v":24},{"p":"P13","r":4,"c":4,"v":27},{"p":"P13","r":4,"c":5,"v":28},{"p":"P13","r":4,"c":6,"v":28},{"p":"P13","r":4,"c":7,"v":27},{"p":"P13","r":4,"c":8,"v":23},{"p":"P13","r":4,"c":9,"v":23},{"p":"P13","r":4,"c":10,"v":13},
{"p":"P13","r":5,"c":1,"v":13},{"p":"P13","r":5,"c":2,"v":19},{"p":"P13","r":5,"c":3,"v":26},{"p":"P13","r":5,"c":4,"v":25},{"p":"P13","r":5,"c":5,"v":26},{"p":"P13","r":5,"c":6,"v":30},{"p":"P13","r":5,"c":7,"v":39},{"p":"P13","r":5,"c":8,"v":null},{"p":"P13","r":5,"c":9,"v":26},{"p":"P13","r":5,"c":10,"v":14},
{"p":"P13","r":6,"c":1,"v":1},{"p":"P13","r":6,"c":2,"v":2},{"p":"P13","r":6,"c":3,"v":14},{"p":"P13","r":6,"c":4,"v":23},{"p":"P13","r":6,"c":5,"v":26},{"p":"P13","r":6,"c":6,"v":29},{"p":"P13","r":6,"c":7,"v":28},{"p":"P13","r":6,"c":8,"v":null},{"p":"P13","r":6,"c":9,"v":25},{"p":"P13","r":6,"c":10,"v":24},
{"p":"P13","r":7,"c":1,"v":2},{"p":"P13","r":7,"c":2,"v":4},{"p":"P13","r":7,"c":3,"v":12},{"p":"P13","r":7,"c":4,"v":23},{"p":"P13","r":7,"c":5,"v":25},{"p":"P13","r":7,"c":6,"v":28},{"p":"P13","r":7,"c":7,"v":29},{"p":"P13","r":7,"c":8,"v":25},{"p":"P13","r":7,"c":9,"v":24},{"p":"P13","r":7,"c":10,"v":16},
{"p":"P13","r":8,"c":2,"v":3},{"p":"P13","r":8,"c":3,"v":12},{"p":"P13","r":8,"c":4,"v":20},{"p":"P13","r":8,"c":5,"v":20},{"p":"P13","r":8,"c":6,"v":25},{"p":"P13","r":8,"c":7,"v":24},{"p":"P13","r":8,"c":8,"v":25},{"p":"P13","r":8,"c":9,"v":16},
{"p":"P13","r":9,"c":3,"v":4},{"p":"P13","r":9,"c":4,"v":8},{"p":"P13","r":9,"c":5,"v":13},{"p":"P13","r":9,"c":6,"v":23},{"p":"P13","r":9,"c":7,"v":23},{"p":"P13","r":9,"c":8,"v":20},
{"p":"P13","r":10,"c":4,"v":3},{"p":"P13","r":10,"c":5,"v":5},{"p":"P13","r":10,"c":6,"v":14},{"p":"P13","r":10,"c":7,"v":10},

{"p":"P14","r":1,"c":4,"v":0},{"p":"P14","r":1,"c":5,"v":0},{"p":"P14","r":1,"c":6,"v":0},{"p":"P14","r":1,"c":7,"v":0},
{"p":"P14","r":2,"c":3,"v":0},{"p":"P14","r":2,"c":4,"v":0},{"p":"P14","r":2,"c":5,"v":0},{"p":"P14","r":2,"c":6,"v":0},{"p":"P14","r":2,"c":7,"v":1},{"p":"P14","r":2,"c":8,"v":1},
{"p":"P14","r":3,"c":2,"v":0},{"p":"P14","r":3,"c":3,"v":1},{"p":"P14","r":3,"c":4,"v":1},{"p":"P14","r":3,"c":5,"v":1},{"p":"P14","r":3,"c":6,"v":1},{"p":"P14","r":3,"c":7,"v":1},{"p":"P14","r":3,"c":8,"v":3},{"p":"P14","r":3,"c":9,"v":2},
{"p":"P14","r":4,"c":1,"v":0},{"p":"P14","r":4,"c":2,"v":1},{"p":"P14","r":4,"c":3,"v":2},{"p":"P14","r":4,"c":4,"v":9},{"p":"P14","r":4,"c":5,"v":3},{"p":"P14","r":4,"c":6,"v":6},{"p":"P14","r":4,"c":7,"v":7},{"p":"P14","r":4,"c":8,"v":2},{"p":"P14","r":4,"c":9,"v":4},{"p":"P14","r":4,"c":10,"v":7},
{"p":"P14","r":5,"c":1,"v":1},{"p":"P14","r":5,"c":2,"v":3},{"p":"P14","r":5,"c":3,"v":11},{"p":"P14","r":5,"c":4,"v":19},{"p":"P14","r":5,"c":5,"v":18},{"p":"P14","r":5,"c":6,"v":5},{"p":"P14","r":5,"c":7,"v":14},{"p":"P14","r":5,"c":8,"v":null},{"p":"P14","r":5,"c":9,"v":11},{"p":"P14","r":5,"c":10,"v":12},
{"p":"P14","r":6,"c":1,"v":10},{"p":"P14","r":6,"c":2,"v":19},{"p":"P14","r":6,"c":3,"v":24},{"p":"P14","r":6,"c":4,"v":25},{"p":"P14","r":6,"c":5,"v":28},{"p":"P14","r":6,"c":6,"v":28},{"p":"P14","r":6,"c":7,"v":26},{"p":"P14","r":6,"c":8,"v":null},{"p":"P14","r":6,"c":9,"v":21},{"p":"P14","r":6,"c":10,"v":16},
{"p":"P14","r":7,"c":1,"v":14},{"p":"P14","r":7,"c":2,"v":17},{"p":"P14","r":7,"c":3,"v":22},{"p":"P14","r":7,"c":4,"v":23},{"p":"P14","r":7,"c":5,"v":24},{"p":"P14","r":7,"c":6,"v":25},{"p":"P14","r":7,"c":7,"v":22},{"p":"P14","r":7,"c":8,"v":19},{"p":"P14","r":7,"c":9,"v":20},{"p":"P14","r":7,"c":10,"v":19},
{"p":"P14","r":8,"c":2,"v":18},{"p":"P14","r":8,"c":3,"v":18},{"p":"P14","r":8,"c":4,"v":18},{"p":"P14","r":8,"c":5,"v":21},{"p":"P14","r":8,"c":6,"v":21},{"p":"P14","r":8,"c":7,"v":23},{"p":"P14","r":8,"c":8,"v":21},{"p":"P14","r":8,"c":9,"v":18},
{"p":"P14","r":9,"c":3,"v":13},{"p":"P14","r":9,"c":4,"v":19},{"p":"P14","r":9,"c":5,"v":18},{"p":"P14","r":9,"c":6,"v":23},{"p":"P14","r":9,"c":7,"v":22},{"p":"P14","r":9,"c":8,"v":20},
{"p":"P14","r":10,"c":4,"v":15},{"p":"P14","r":10,"c":5,"v":19},{"p":"P14","r":10,"c":6,"v":21},{"p":"P14","r":10,"c":7,"v":20},

{"p":"P15","r":1,"c":4,"v":11},{"p":"P15","r":1,"c":5,"v":14},{"p":"P15","r":1,"c":6,"v":16},{"p":"P15","r":1,"c":7,"v":13},
{"p":"P15","r":2,"c":3,"v":13},{"p":"P15","r":2,"c":4,"v":17},{"p":"P15","r":2,"c":5,"v":20},{"p":"P15","r":2,"c":6,"v":20},{"p":"P15","r":2,"c":7,"v":19},{"p":"P15","r":2,"c":8,"v":19},
{"p":"P15","r":3,"c":2,"v":16},{"p":"P15","r":3,"c":3,"v":19},{"p":"P15","r":3,"c":4,"v":21},{"p":"P15","r":3,"c":5,"v":23},{"p":"P15","r":3,"c":6,"v":23},{"p":"P15","r":3,"c":7,"v":23},{"p":"P15","r":3,"c":8,"v":22},{"p":"P15","r":3,"c":9,"v":18},
{"p":"P15","r":4,"c":1,"v":7},{"p":"P15","r":4,"c":2,"v":12},{"p":"P15","r":4,"c":3,"v":19},{"p":"P15","r":4,"c":4,"v":21},{"p":"P15","r":4,"c":5,"v":24},{"p":"P15","r":4,"c":6,"v":25},{"p":"P15","r":4,"c":7,"v":25},{"p":"P15","r":4,"c":8,"v":23},{"p":"P15","r":4,"c":9,"v":19},{"p":"P15","r":4,"c":10,"v":17},
{"p":"P15","r":5,"c":1,"v":10},{"p":"P15","r":5,"c":2,"v":14},{"p":"P15","r":5,"c":3,"v":17},{"p":"P15","r":5,"c":4,"v":24},{"p":"P15","r":5,"c":5,"v":27},{"p":"P15","r":5,"c":6,"v":29},{"p":"P15","r":5,"c":7,"v":29},{"p":"P15","r":5,"c":8,"v":null},{"p":"P15","r":5,"c":9,"v":20},{"p":"P15","r":5,"c":10,"v":16},
{"p":"P15","r":6,"c":1,"v":1},{"p":"P15","r":6,"c":2,"v":1},{"p":"P15","r":6,"c":3,"v":5},{"p":"P15","r":6,"c":4,"v":21},{"p":"P15","r":6,"c":5,"v":14},{"p":"P15","r":6,"c":6,"v":6},{"p":"P15","r":6,"c":7,"v":15},{"p":"P15","r":6,"c":8,"v":null},{"p":"P15","r":6,"c":9,"v":17},{"p":"P15","r":6,"c":10,"v":15},
{"p":"P15","r":7,"c":1,"v":0},{"p":"P15","r":7,"c":2,"v":1},{"p":"P15","r":7,"c":3,"v":2},{"p":"P15","r":7,"c":4,"v":10},{"p":"P15","r":7,"c":5,"v":16},{"p":"P15","r":7,"c":6,"v":7},{"p":"P15","r":7,"c":7,"v":7},{"p":"P15","r":7,"c":8,"v":7},{"p":"P15","r":7,"c":9,"v":6},{"p":"P15","r":7,"c":10,"v":10},
{"p":"P15","r":8,"c":2,"v":0},{"p":"P15","r":8,"c":3,"v":2},{"p":"P15","r":8,"c":4,"v":3},{"p":"P15","r":8,"c":5,"v":2},{"p":"P15","r":8,"c":6,"v":1},{"p":"P15","r":8,"c":7,"v":2},{"p":"P15","r":8,"c":8,"v":2},{"p":"P15","r":8,"c":9,"v":1},
{"p":"P15","r":9,"c":3,"v":1},{"p":"P15","r":9,"c":4,"v":1},{"p":"P15","r":9,"c":5,"v":1},{"p":"P15","r":9,"c":6,"v":0},{"p":"P15","r":9,"c":7,"v":1},{"p":"P15","r":9,"c":8,"v":3},
{"p":"P15","r":10,"c":4,"v":1},{"p":"P15","r":10,"c":5,"v":0},{"p":"P15","r":10,"c":6,"v":0},{"p":"P15","r":10,"c":7,"v":2},

{"p":"P16","r":1,"c":4,"v":10},{"p":"P16","r":1,"c":5,"v":12},{"p":"P16","r":1,"c":6,"v":8},{"p":"P16","r":1,"c":7,"v":9},
{"p":"P16","r":2,"c":3,"v":16},{"p":"P16","r":2,"c":4,"v":17},{"p":"P16","r":2,"c":5,"v":18},{"p":"P16","r":2,"c":6,"v":16},{"p":"P16","r":2,"c":7,"v":14},{"p":"P16","r":2,"c":8,"v":15},
{"p":"P16","r":3,"c":2,"v":14},{"p":"P16","r":3,"c":3,"v":20},{"p":"P16","r":3,"c":4,"v":22},{"p":"P16","r":3,"c":5,"v":20},{"p":"P16","r":3,"c":6,"v":19},{"p":"P16","r":3,"c":7,"v":17},{"p":"P16","r":3,"c":8,"v":19},{"p":"P16","r":3,"c":9,"v":15},
{"p":"P16","r":4,"c":1,"v":15},{"p":"P16","r":4,"c":2,"v":20},{"p":"P16","r":4,"c":3,"v":22},{"p":"P16","r":4,"c":4,"v":25},{"p":"P16","r":4,"c":5,"v":23},{"p":"P16","r":4,"c":6,"v":17},{"p":"P16","r":4,"c":7,"v":16},{"p":"P16","r":4,"c":8,"v":18},{"p":"P16","r":4,"c":9,"v":19},{"p":"P16","r":4,"c":10,"v":19},
{"p":"P16","r":5,"c":1,"v":13},{"p":"P16","r":5,"c":2,"v":18},{"p":"P16","r":5,"c":3,"v":25},{"p":"P16","r":5,"c":4,"v":25},{"p":"P16","r":5,"c":5,"v":26},{"p":"P16","r":5,"c":6,"v":22},{"p":"P16","r":5,"c":7,"v":17},{"p":"P16","r":5,"c":8,"v":null},{"p":"P16","r":5,"c":9,"v":23},{"p":"P16","r":5,"c":10,"v":21},
{"p":"P16","r":6,"c":1,"v":6},{"p":"P16","r":6,"c":2,"v":15},{"p":"P16","r":6,"c":3,"v":20},{"p":"P16","r":6,"c":4,"v":17},{"p":"P16","r":6,"c":5,"v":20},{"p":"P16","r":6,"c":6,"v":19},{"p":"P16","r":6,"c":7,"v":25},{"p":"P16","r":6,"c":8,"v":null},{"p":"P16","r":6,"c":9,"v":23},{"p":"P16","r":6,"c":10,"v":23},
{"p":"P16","r":7,"c":1,"v":6},{"p":"P16","r":7,"c":2,"v":8},{"p":"P16","r":7,"c":3,"v":14},{"p":"P16","r":7,"c":4,"v":15},{"p":"P16","r":7,"c":5,"v":12},{"p":"P16","r":7,"c":6,"v":8},{"p":"P16","r":7,"c":7,"v":13},{"p":"P16","r":7,"c":8,"v":13},{"p":"P16","r":7,"c":9,"v":18},{"p":"P16","r":7,"c":10,"v":21},
{"p":"P16","r":8,"c":2,"v":5},{"p":"P16","r":8,"c":3,"v":9},{"p":"P16","r":8,"c":4,"v":7},{"p":"P16","r":8,"c":5,"v":2},{"p":"P16","r":8,"c":6,"v":3},{"p":"P16","r":8,"c":7,"v":5},{"p":"P16","r":8,"c":8,"v":15},{"p":"P16","r":8,"c":9,"v":18},
{"p":"P16","r":9,"c":3,"v":5},{"p":"P16","r":9,"c":4,"v":6},{"p":"P16","r":9,"c":5,"v":6},{"p":"P16","r":9,"c":6,"v":4},{"p":"P16","r":9,"c":7,"v":14},{"p":"P16","r":9,"c":8,"v":17},
{"p":"P16","r":10,"c":4,"v":6},{"p":"P16","r":10,"c":5,"v":7},{"p":"P16","r":10,"c":6,"v":12},{"p":"P16","r":10,"c":7,"v":10},

{"p":"P17","r":1,"c":4,"v":21},{"p":"P17","r":1,"c":5,"v":21},{"p":"P17","r":1,"c":6,"v":18},{"p":"P17","r":1,"c":7,"v":13},
{"p":"P17","r":2,"c":3,"v":21},{"p":"P17","r":2,"c":4,"v":24},{"p":"P17","r":2,"c":5,"v":24},{"p":"P17","r":2,"c":6,"v":18},{"p":"P17","r":2,"c":7,"v":14},{"p":"P17","r":2,"c":8,"v":16},
{"p":"P17","r":3,"c":2,"v":20},{"p":"P17","r":3,"c":3,"v":24},{"p":"P17","r":3,"c":4,"v":26},{"p":"P17","r":3,"c":5,"v":21},{"p":"P17","r":3,"c":6,"v":12},{"p":"P17","r":3,"c":7,"v":12},{"p":"P17","r":3,"c":8,"v":17},{"p":"P17","r":3,"c":9,"v":26},
{"p":"P17","r":4,"c":1,"v":13},{"p":"P17","r":4,"c":2,"v":24},{"p":"P17","r":4,"c":3,"v":28},{"p":"P17","r":4,"c":4,"v":29},{"p":"P17","r":4,"c":5,"v":22},{"p":"P17","r":4,"c":6,"v":3},{"p":"P17","r":4,"c":7,"v":5},{"p":"P17","r":4,"c":8,"v":12},{"p":"P17","r":4,"c":9,"v":23},{"p":"P17","r":4,"c":10,"v":23},
{"p":"P17","r":5,"c":1,"v":15},{"p":"P17","r":5,"c":2,"v":25},{"p":"P17","r":5,"c":3,"v":26},{"p":"P17","r":5,"c":4,"v":27},{"p":"P17","r":5,"c":5,"v":8},{"p":"P17","r":5,"c":6,"v":28},{"p":"P17","r":5,"c":7,"v":6},{"p":"P17","r":5,"c":8,"v":null},{"p":"P17","r":5,"c":9,"v":22},{"p":"P17","r":5,"c":10,"v":25},
{"p":"P17","r":6,"c":1,"v":4},{"p":"P17","r":6,"c":2,"v":21},{"p":"P17","r":6,"c":3,"v":18},{"p":"P17","r":6,"c":4,"v":28},{"p":"P17","r":6,"c":5,"v":31},{"p":"P17","r":6,"c":6,"v":31},{"p":"P17","r":6,"c":7,"v":28},{"p":"P17","r":6,"c":8,"v":null},{"p":"P17","r":6,"c":9,"v":26},{"p":"P17","r":6,"c":10,"v":25},
{"p":"P17","r":7,"c":1,"v":22},{"p":"P17","r":7,"c":2,"v":17},{"p":"P17","r":7,"c":3,"v":4},{"p":"P17","r":7,"c":4,"v":5},{"p":"P17","r":7,"c":5,"v":23},{"p":"P17","r":7,"c":6,"v":27},{"p":"P17","r":7,"c":7,"v":11},{"p":"P17","r":7,"c":8,"v":11},{"p":"P17","r":7,"c":9,"v":19},{"p":"P17","r":7,"c":10,"v":27},
{"p":"P17","r":8,"c":2,"v":20},{"p":"P17","r":8,"c":3,"v":24},{"p":"P17","r":8,"c":4,"v":28},{"p":"P17","r":8,"c":5,"v":17},{"p":"P17","r":8,"c":6,"v":21},{"p":"P17","r":8,"c":7,"v":21},{"p":"P17","r":8,"c":8,"v":22},{"p":"P17","r":8,"c":9,"v":14},
{"p":"P17","r":9,"c":3,"v":23},{"p":"P17","r":9,"c":4,"v":24},{"p":"P17","r":9,"c":5,"v":26},{"p":"P17","r":9,"c":6,"v":22},{"p":"P17","r":9,"c":7,"v":13},{"p":"P17","r":9,"c":8,"v":18},
{"p":"P17","r":10,"c":4,"v":17},{"p":"P17","r":10,"c":5,"v":21},{"p":"P17","r":10,"c":6,"v":5},{"p":"P17","r":10,"c":7,"v":17},

{"p":"P18","r":1,"c":4,"v":0},{"p":"P18","r":1,"c":5,"v":1},{"p":"P18","r":1,"c":6,"v":1},{"p":"P18","r":1,"c":7,"v":1},
{"p":"P18","r":2,"c":3,"v":0},{"p":"P18","r":2,"c":4,"v":0},{"p":"P18","r":2,"c":5,"v":2},{"p":"P18","r":2,"c":6,"v":1},{"p":"P18","r":2,"c":7,"v":0},{"p":"P18","r":2,"c":8,"v":1},
{"p":"P18","r":3,"c":2,"v":0},{"p":"P18","r":3,"c":3,"v":0},{"p":"P18","r":3,"c":4,"v":0},{"p":"P18","r":3,"c":5,"v":0},{"p":"P18","r":3,"c":6,"v":0},{"p":"P18","r":3,"c":7,"v":0},{"p":"P18","r":3,"c":8,"v":3},{"p":"P18","r":3,"c":9,"v":2},
{"p":"P18","r":4,"c":1,"v":0},{"p":"P18","r":4,"c":2,"v":0},{"p":"P18","r":4,"c":3,"v":0},{"p":"P18","r":4,"c":4,"v":2},{"p":"P18","r":4,"c":5,"v":3},{"p":"P18","r":4,"c":6,"v":0},{"p":"P18","r":4,"c":7,"v":1},{"p":"P18","r":4,"c":8,"v":2},{"p":"P18","r":4,"c":9,"v":7},{"p":"P18","r":4,"c":10,"v":7},
{"p":"P18","r":5,"c":1,"v":0},{"p":"P18","r":5,"c":2,"v":0},{"p":"P18","r":5,"c":3,"v":0},{"p":"P18","r":5,"c":4,"v":0},{"p":"P18","r":5,"c":5,"v":3},{"p":"P18","r":5,"c":6,"v":0},{"p":"P18","r":5,"c":7,"v":0},{"p":"P18","r":5,"c":8,"v":null},{"p":"P18","r":5,"c":9,"v":9},{"p":"P18","r":5,"c":10,"v":8},
{"p":"P18","r":6,"c":1,"v":0},{"p":"P18","r":6,"c":2,"v":0},{"p":"P18","r":6,"c":3,"v":1},{"p":"P18","r":6,"c":4,"v":2},{"p":"P18","r":6,"c":5,"v":3},{"p":"P18","r":6,"c":6,"v":4},{"p":"P18","r":6,"c":7,"v":6},{"p":"P18","r":6,"c":8,"v":null},{"p":"P18","r":6,"c":9,"v":6},{"p":"P18","r":6,"c":10,"v":7},
{"p":"P18","r":7,"c":1,"v":0},{"p":"P18","r":7,"c":2,"v":0},{"p":"P18","r":7,"c":3,"v":0},{"p":"P18","r":7,"c":4,"v":0},{"p":"P18","r":7,"c":5,"v":0},{"p":"P18","r":7,"c":6,"v":0},{"p":"P18","r":7,"c":7,"v":2},{"p":"P18","r":7,"c":8,"v":0},{"p":"P18","r":7,"c":9,"v":4},{"p":"P18","r":7,"c":10,"v":5},
{"p":"P18","r":8,"c":2,"v":0},{"p":"P18","r":8,"c":3,"v":0},{"p":"P18","r":8,"c":4,"v":0},{"p":"P18","r":8,"c":5,"v":0},{"p":"P18","r":8,"c":6,"v":0},{"p":"P18","r":8,"c":7,"v":0},{"p":"P18","r":8,"c":8,"v":2},{"p":"P18","r":8,"c":9,"v":2},
{"p":"P18","r":9,"c":3,"v":2},{"p":"P18","r":9,"c":4,"v":0},{"p":"P18","r":9,"c":5,"v":0},{"p":"P18","r":9,"c":6,"v":0},{"p":"P18","r":9,"c":7,"v":3},{"p":"P18","r":9,"c":8,"v":0},
{"p":"P18","r":10,"c":4,"v":0},{"p":"P18","r":10,"c":5,"v":1},{"p":"P18","r":10,"c":6,"v":1},{"p":"P18","r":10,"c":7,"v":2}
]
},
"data": {"name": "cells"},
"transform": [
{"lookup": "p", "from": {"data": {"name": "panels"}, "key": "p", "fields": ["pr", "pc"]}}
],
"facet": {
"row": {"field": "pr", "type": "ordinal", "header": {"labels": false, "title": null, "labelPadding": 0, "titlePadding": 0}},
"column": {"field": "pc", "type": "ordinal", "header": {"labels": false, "title": null, "labelPadding": 0, "titlePadding": 0}}
},
"bounds": "flush",
"spacing": {"row": 19, "column": 19},
"resolve": {"scale": {"x": "shared", "y": "shared", "color": "shared"}},
"spec": {
"width": 253,
"height": 253,
"encoding": {
"x": {"field": "c", "type": "ordinal", "scale": {"domain": [1,2,3,4,5,6,7,8,9,10], "paddingInner": 0, "paddingOuter": 0}, "axis": null},
"y": {"field": "r", "type": "ordinal", "scale": {"domain": [1,2,3,4,5,6,7,8,9,10], "paddingInner": 0, "paddingOuter": 0}, "axis": null}
},
"layer": [
{
"transform": [{"filter": {"not": {"field": "v", "valid": false}}}],
"mark": {"type": "rect", "stroke": "#9a9a9a", "strokeWidth": 1},
"encoding": {
"color": {"field": "v", "type": "quantitative",
"scale": {"domain": [14, 22, 26, 30], "range": ["#cd5c5c", "#ffffff", "#9acd32", "#006400"], "clamp": true, "interpolate": "rgb"},
"legend": {"orient": "none", "legendX": 1102, "legendY": 390, "direction": "vertical", "gradientLength": 318, "gradientThickness": 15, "values": [15, 18, 21, 24, 27, 30], "title": null, "labelFontSize": 16, "labelFont": "DejaVu Sans", "labelColor": "#333333", "labelOffset": 12, "labelBaseline": "middle", "gradientStrokeWidth": 0}
}
}
},
{
"transform": [{"filter": {"field": "v", "valid": false}}],
"mark": {"type": "rect", "fill": "black", "stroke": "black", "strokeWidth": 1}
},
{
"transform": [{"filter": {"and": [{"field": "r", "equal": 1}, {"field": "c", "equal": 4}]}}],
"mark": {"type": "rule", "color": "black", "strokeWidth": 1.5},
"encoding": {"x": {"datum": 6, "type": "ordinal", "bandPosition": 0}, "y": null}
},
{
"transform": [{"filter": {"and": [{"field": "r", "equal": 1}, {"field": "c", "equal": 4}]}}],
"mark": {"type": "rule", "color": "black", "strokeWidth": 1.5},
"encoding": {"y": {"datum": 6, "type": "ordinal", "bandPosition": 0}, "x": null}
},
{
"transform": [{"filter": {"not": {"field": "v", "valid": false}}}],
"mark": {"type": "text", "font": "DejaVu Sans", "fontSize": 13.5, "align": "center", "baseline": "middle"},
"encoding": {
"text": {"field": "v", "type": "quantitative"},
"color": {"condition": {"test": "datum.v <= 15 || datum.v >= 27", "value": "#ffffff"}, "value": "#262626"}
}
},
{
"transform": [{"filter": {"and": [{"field": "r", "equal": 1}, {"field": "c", "equal": 4}, {"field": "p", "oneOf": ["P1","P2","P3","P4"]}]}}],
"mark": {"type": "text", "font": "Open Sans", "fontSize": 30, "align": "left", "baseline": "alphabetic", "dy": 30, "dx": 0, "color": "black"},
"encoding": {"text": {"field": "p"}, "x": {"datum": 1, "type": "ordinal", "bandPosition": 0}, "y": {"datum": 1, "type": "ordinal", "bandPosition": 0}}
},
{
"transform": [{"filter": {"and": [{"field": "r", "equal": 1}, {"field": "c", "equal": 4}, {"field": "p", "oneOf": ["P10","P11","P12","P17","P18"]}]}}],
"mark": {"type": "text", "font": "Open Sans", "fontSize": 30, "align": "left", "baseline": "alphabetic", "dy": 35, "dx": -3, "color": "black"},
"encoding": {"text": {"field": "p"}, "x": {"datum": 1, "type": "ordinal", "bandPosition": 0}, "y": {"datum": 1, "type": "ordinal", "bandPosition": 0}}
},
{
"transform": [{"filter": {"and": [{"field": "r", "equal": 1}, {"field": "c", "equal": 4}, {"field": "p", "oneOf": ["P5","P6","P7","P8","P9","P13","P14","P15","P16"]}]}}],
"mark": {"type": "text", "font": "Open Sans", "fontSize": 30, "align": "left", "baseline": "alphabetic", "dy": 24, "dx": 0, "color": "black"},
"encoding": {"text": {"field": "p"}, "x": {"datum": 1, "type": "ordinal", "bandPosition": 0}, "y": {"datum": 1, "type": "ordinal", "bandPosition": 0}}
}
]
}
}
